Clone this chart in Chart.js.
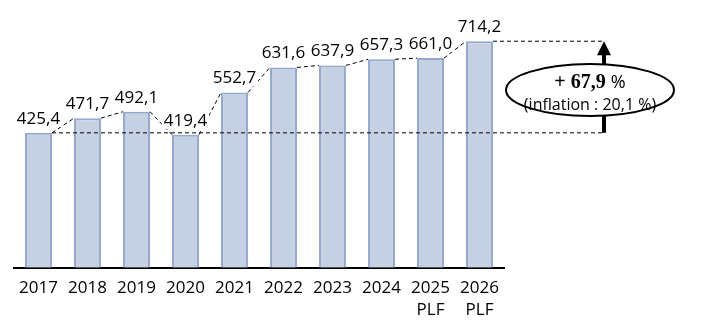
<!DOCTYPE html>
<html>
<head>
<meta charset="utf-8">
<script src="https://cdn.jsdelivr.net/npm/chart.js@4/dist/chart.umd.min.js"></script>
<style>
    html, body { margin: 0; padding: 0; background: #fff; }
    canvas { display: block; }
</style>
</head>
<body>
<canvas id="budgetChart" width="703" height="331"></canvas>
<script>
// Budget values (M€), 2017 - 2026 PLF
const years = [['2017'], ['2018'], ['2019'], ['2020'], ['2021'], ['2022'], ['2023'], ['2024'], ['2025', 'PLF'], ['2026', 'PLF']];
const amounts = [425.4, 471.7, 492.1, 419.4, 552.7, 631.6, 637.9, 657.3, 661.0, 714.2];
const inflationLabel = '(inflation : 20,1 %)';

const FONT = '"Open Sans", "Liberation Sans", sans-serif';

function formatFr(v) {
    return v.toFixed(1).replace('.', ',');
}

// Dashed connectors, value labels, and the growth bubble on the right
const decorPlugin = {
    id: 'decor',
    afterDatasetsDraw(chart) {
        const ctx = chart.ctx;
        const bars = chart.getDatasetMeta(0).data;
        const yScale = chart.scales.y;
        const arrowX = 604;

        ctx.save();
        ctx.strokeStyle = '#000';
        ctx.lineWidth = 1;
        ctx.setLineDash([4, 3]);

        // segments from top-right corner of a bar to top-left corner of the next one
        for (let i = 0; i < bars.length - 1; i++) {
            const a = bars[i], b = bars[i + 1];
            ctx.beginPath();
            ctx.moveTo(a.x + a.width / 2, a.y);
            ctx.lineTo(b.x - b.width / 2, b.y);
            ctx.stroke();
        }

        // reference lines at first and last values
        const first = bars[0], last = bars[bars.length - 1];
        const yFirst = yScale.getPixelForValue(amounts[0]);
        const yLast = yScale.getPixelForValue(amounts[amounts.length - 1]);
        ctx.beginPath();
        ctx.moveTo(first.x + first.width / 2, yFirst);
        ctx.lineTo(arrowX, yFirst);
        ctx.moveTo(last.x + last.width / 2, yLast);
        ctx.lineTo(arrowX, yLast);
        ctx.stroke();
        ctx.setLineDash([]);

        // value labels
        ctx.font = '17px ' + FONT;
        ctx.textAlign = 'center';
        ctx.textBaseline = 'middle';
        bars.forEach((bar, i) => {
            const txt = formatFr(amounts[i]);
            const w = ctx.measureText(txt).width;
            const cy = bar.y - 14;
            ctx.fillStyle = '#fff';
            ctx.fillRect(bar.x - w / 2 - 2, cy - 8, w + 4, 16);
            ctx.fillStyle = '#000';
            ctx.fillText(txt, bar.x, cy);
        });

        // arrow
        ctx.fillStyle = '#000';
        ctx.lineWidth = 4;
        ctx.beginPath();
        ctx.moveTo(arrowX, yFirst);
        ctx.lineTo(arrowX, yLast + 12);
        ctx.stroke();
        ctx.beginPath();
        ctx.moveTo(arrowX, yLast);
        ctx.lineTo(arrowX - 7, yLast + 14);
        ctx.lineTo(arrowX + 7, yLast + 14);
        ctx.closePath();
        ctx.fill();

        // bubble
        const cx = 590, cy = 90;
        ctx.beginPath();
        ctx.ellipse(cx, cy, 84, 26, 0, 0, Math.PI * 2);
        ctx.fillStyle = '#fff';
        ctx.fill();
        ctx.lineWidth = 2;
        ctx.strokeStyle = '#000';
        ctx.stroke();

        const growth = (amounts[amounts.length - 1] / amounts[0] - 1) * 100;
        const boldPart = '+ ' + formatFr(growth) + ' ';
        const boldFont = 'bold 20px "Liberation Serif", serif';
        ctx.fillStyle = '#000';
        ctx.font = boldFont;
        const bw = ctx.measureText(boldPart).width;
        ctx.font = '18px ' + FONT;
        const pw = ctx.measureText('%').width;
        const startX = cx - (bw + pw) / 2;
        ctx.textAlign = 'left';
        ctx.font = boldFont;
        ctx.fillText(boldPart, startX, cy - 7);
        ctx.font = '18px ' + FONT;
        ctx.fillText('%', startX + bw, cy - 7);

        ctx.textAlign = 'center';
        ctx.font = '16px ' + FONT;
        ctx.fillText(inflationLabel, cx, cy + 15);
        ctx.restore();
    }
};

new Chart(document.getElementById('budgetChart'), {
    type: 'bar',
    data: {
        labels: years,
        datasets: [{
            data: amounts,
            backgroundColor: '#c6d0e3',
            borderColor: '#95a9cc',
            borderWidth: 2,
            categoryPercentage: 1,
            barPercentage: 0.55
        }]
    },
    options: {
        responsive: false,
        animation: false,
        layout: {
            padding: { left: 14, right: 199, top: 14, bottom: 1 }
        },
        plugins: {
            legend: { display: false },
            tooltip: { enabled: false }
        },
        scales: {
            y: {
                display: false,
                min: 0,
                max: 800
            },
            x: {
                grid: { display: false, drawTicks: false },
                border: { display: true, color: '#000', width: 2 },
                ticks: {
                    color: '#000',
                    font: { family: FONT, size: 17, lineHeight: 1.3 },
                    padding: 9,
                    maxRotation: 0,
                    autoSkip: false
                }
            }
        }
    },
    plugins: [decorPlugin]
});
</script>
</body>
</html>
